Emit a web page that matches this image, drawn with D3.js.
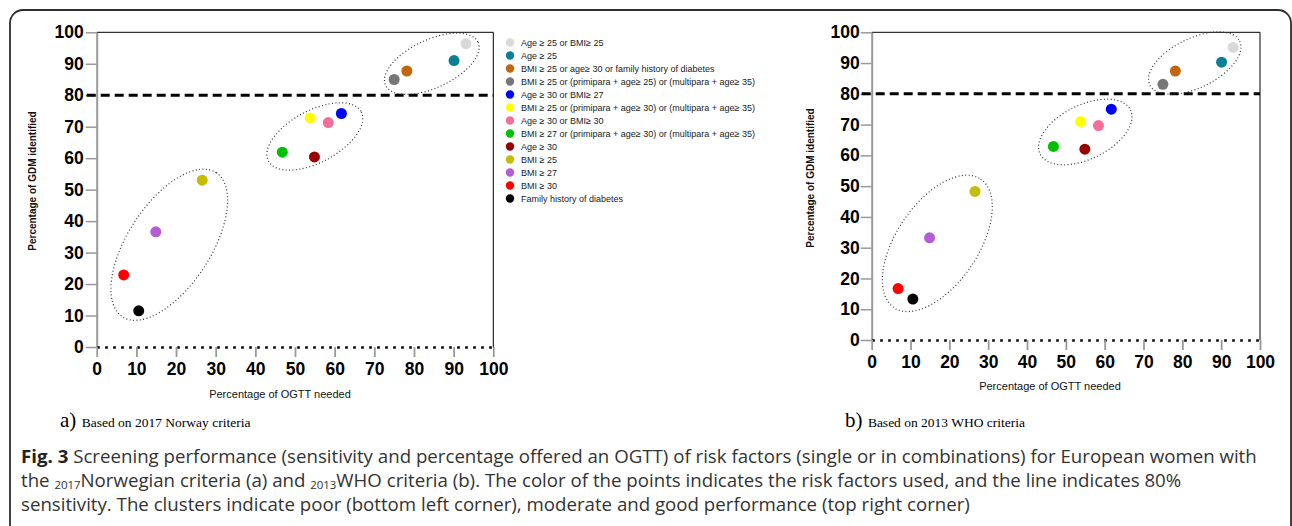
<!DOCTYPE html>
<html>
<head>
<meta charset="utf-8">
<script src="https://cdnjs.cloudflare.com/ajax/libs/d3/7.8.5/d3.min.js"></script>
<style>
  body { margin: 0; background: #fff; }
  svg { display: block; }
  .tick text { font-family: "Liberation Sans", Arial, sans-serif; font-weight: bold; font-size: 17.5px; fill: #000; }
</style>
</head>
<body>
<svg id="chart"></svg>
<script>
// risk factor combinations, in legend order
var riskFactors = [
  "Age \u2265 25 or BMI\u2265 25",
  "Age \u2265 25",
  "BMI \u2265 25 or age\u2265 30 or family history of diabetes",
  "BMI \u2265 25 or (primipara + age\u2265 25) or (multipara + age\u2265 35)",
  "Age \u2265 30 or BMI\u2265 27",
  "BMI \u2265 25 or (primipara + age\u2265 30) or (multipara + age\u2265 35)",
  "Age \u2265 30 or BMI\u2265 30",
  "BMI \u2265 27 or (primipara + age\u2265 30) or (multipara + age\u2265 35)",
  "Age \u2265 30",
  "BMI \u2265 25",
  "BMI \u2265 27",
  "BMI \u2265 30",
  "Family history of diabetes"
];
var colors = ["#d9d9d9", "#0b7f96", "#c2650c", "#777777", "#0000ff", "#ffff00", "#f36f99",
              "#00c000", "#9b0000", "#c4bc00", "#b45bd6", "#ff0000", "#000000"];

// percentage of OGTT needed (same for both criteria)
var ogttPct   = [93.1, 90.1, 78.2, 75.0, 61.7, 53.8, 58.4, 46.8, 54.9, 26.6, 14.9, 6.8, 10.6];
// percentage of GDM identified
var norwayGdm = [96.4, 91.0, 87.7, 85.0, 74.2, 72.8, 71.3, 61.9, 60.4, 53.0, 36.6, 22.9, 11.5];
var whoGdm    = [95.1, 90.3, 87.4, 83.1, 75.0, 71.0, 69.7, 62.9, 62.0, 48.3, 33.2, 16.7, 13.3];

var ticks = [0, 10, 20, 30, 40, 50, 60, 70, 80, 90, 100];
var threshold = 80;

// dotted cluster ellipses: centre in data units, semi-axes px, rotation deg
var norwayClusters = [
  {cx: 84.5, cy: 90.0, a: 51, b: 24, rot: -25},
  {cx: 55.0, cy: 66.9, a: 52.5, b: 26, rot: -28},
  {cx: 18.3, cy: 32.5, a: 86, b: 41.5, rot: -57}
];
var whoClusters = [
  {cx: 83.2, cy: 90.0, a: 50, b: 24.7, rot: -26},
  {cx: 55.0, cy: 67.6, a: 50.3, b: 27, rot: -26},
  {cx: 16.9, cy: 31.4, a: 77.5, b: 40.8, rot: -56}
];

var W = 1292, H = 526;
var svg = d3.select("#chart").attr("width", W).attr("height", H);

// frame
svg.append("rect")
  .attr("x", 10).attr("y", 10)
  .attr("width", 1281).attr("height", 640)
  .attr("rx", 13)
  .attr("fill", "none")
  .attr("stroke", "#2e2e2e")
  .attr("stroke-width", 1.8);

function drawPanel(p) {
  var x = d3.scaleLinear().domain([0, 100]).range([p.x0, p.x1]);
  var y = d3.scaleLinear().domain([0, 100]).range([p.y0, p.y1]);
  var g = svg.append("g");

  // top and right border
  g.append("line").attr("x1", x(0)).attr("x2", x(100)).attr("y1", y(100)).attr("y2", y(100))
    .attr("stroke", "#000").attr("stroke-width", 1);
  g.append("line").attr("x1", x(100)).attr("x2", x(100)).attr("y1", y(100)).attr("y2", y(0))
    .attr("stroke", "#000").attr("stroke-width", 1);

  // y axis
  var ya = g.append("g").attr("transform", "translate(" + x(0) + ",0)")
    .call(d3.axisLeft(y).tickValues(ticks).tickSize(11).tickSizeOuter(0).tickPadding(p.ypad));
  ya.select(".domain").attr("stroke", "#999").attr("stroke-width", 2);
  ya.selectAll(".tick line").attr("stroke", "#999").attr("stroke-width", 1.5);

  // x axis
  var xa = g.append("g").attr("transform", "translate(0," + y(0) + ")")
    .call(d3.axisBottom(x).tickValues(ticks).tickSize(10).tickSizeOuter(0).tickPadding(6));
  xa.select(".domain").attr("stroke", "#000").attr("stroke-width", 2.6)
    .attr("stroke-dasharray", "2.6,5.4");
  xa.selectAll(".tick line").attr("stroke", "#999").attr("stroke-width", 1.8);

  // 80% sensitivity line
  g.append("line")
    .attr("x1", x(0) - 10).attr("x2", x(100))
    .attr("y1", y(threshold)).attr("y2", y(threshold))
    .attr("stroke", "#000").attr("stroke-width", 3)
    .attr("stroke-dasharray", "9,5");

  // clusters
  g.selectAll(".cluster").data(p.clusters).enter()
    .append("ellipse")
    .attr("class", "cluster")
    .attr("transform", function(d) { return "translate(" + x(d.cx) + "," + y(d.cy) + ") rotate(" + d.rot + ")"; })
    .attr("rx", function(d) { return d.a; })
    .attr("ry", function(d) { return d.b; })
    .attr("fill", "none")
    .attr("stroke", "#333")
    .attr("stroke-width", 1.2)
    .attr("stroke-dasharray", "1,2.4");

  // points
  g.selectAll(".pt").data(p.values).enter()
    .append("circle")
    .attr("class", "pt")
    .attr("cx", function(d, i) { return x(ogttPct[i]); })
    .attr("cy", function(d) { return y(d); })
    .attr("r", 5.5)
    .attr("fill", function(d, i) { return colors[i]; });

  // axis titles
  g.append("text")
    .attr("x", p.xlabX).attr("y", p.xlabY)
    .attr("text-anchor", "middle")
    .attr("font-family", "Liberation Sans, Arial, sans-serif")
    .attr("font-size", "11px")
    .attr("fill", "#111")
    .text("Percentage of OGTT needed");
  g.append("text")
    .attr("transform", "translate(" + p.ylabX + "," + p.ylabY + ") rotate(-90)")
    .attr("text-anchor", "middle")
    .attr("font-family", "Liberation Sans, Arial, sans-serif")
    .attr("font-size", "10px")
    .attr("font-weight", "bold")
    .attr("fill", "#111")
    .text("Percentage of GDM identified");

  // sub-figure caption
  var t = svg.append("text")
    .attr("x", p.capX).attr("y", 427)
    .attr("font-family", "Liberation Serif, Times New Roman, serif")
    .attr("fill", "#000");
  t.append("tspan").attr("font-size", "21px").text(p.letter + ")");
  t.append("tspan").attr("font-size", "13.5px").attr("dx", 2).text(" " + p.caption);
}

drawPanel({
  x0: 96.7, x1: 493.3, y0: 347, y1: 32.3, ypad: 2,
  values: norwayGdm, clusters: norwayClusters,
  xlabX: 280, xlabY: 398, ylabX: 36, ylabY: 181,
  capX: 60, letter: "a", caption: "Based on 2017 Norway criteria"
});
drawPanel({
  x0: 871.7, x1: 1260, y0: 340, y1: 32.3, ypad: 1,
  values: whoGdm, clusters: whoClusters,
  xlabX: 1050, xlabY: 390, ylabX: 814, ylabY: 178,
  capX: 845, letter: "b", caption: "Based on 2013 WHO criteria"
});

// legend
var legend = svg.append("g").attr("transform", "translate(510,42.5)");
var items = legend.selectAll(".item").data(riskFactors).enter()
  .append("g")
  .attr("transform", function(d, i) { return "translate(0," + (i * 13) + ")"; });
items.append("circle").attr("r", 4.2).attr("fill", function(d, i) { return colors[i]; });
items.append("text")
  .attr("x", 11).attr("dy", "0.35em")
  .attr("font-family", "Liberation Sans, Arial, sans-serif")
  .attr("font-size", "9px")
  .attr("fill", "#222")
  .text(function(d) { return d; });

// figure caption
var cap = svg.append("g")
  .attr("font-family", "Open Sans, sans-serif")
  .attr("font-size", "18px")
  .attr("fill", "#333");
var l1 = cap.append("text").attr("y", 463);
l1.append("tspan").attr("font-weight", "bold").attr("fill", "#222").text("Fig. 3");
l1.append("tspan").text(" Screening performance (sensitivity and percentage offered an OGTT) of risk factors (single or in combinations) for European women with");
var l2 = cap.append("text").attr("y", 487);
l2.append("tspan").text("the ");
l2.append("tspan").attr("font-size", "11px").attr("dy", 2.5).text("2017");
l2.append("tspan").attr("dy", -2.5).text("Norwegian criteria (a) and ");
l2.append("tspan").attr("font-size", "11px").attr("dy", 2.5).text("2013");
l2.append("tspan").attr("dy", -2.5).text("WHO criteria (b). The color of the points indicates the risk factors used, and the line indicates 80%");
cap.append("text").attr("y", 511)
  .text("sensitivity. The clusters indicate poor (bottom left corner), moderate and good performance (top right corner)");

var w1 = l1.node().getComputedTextLength();
var sx = (1258 - 21) / w1;
cap.attr("transform", "translate(21,0) scale(" + sx + ",1)");
</script>
</body>
</html>
